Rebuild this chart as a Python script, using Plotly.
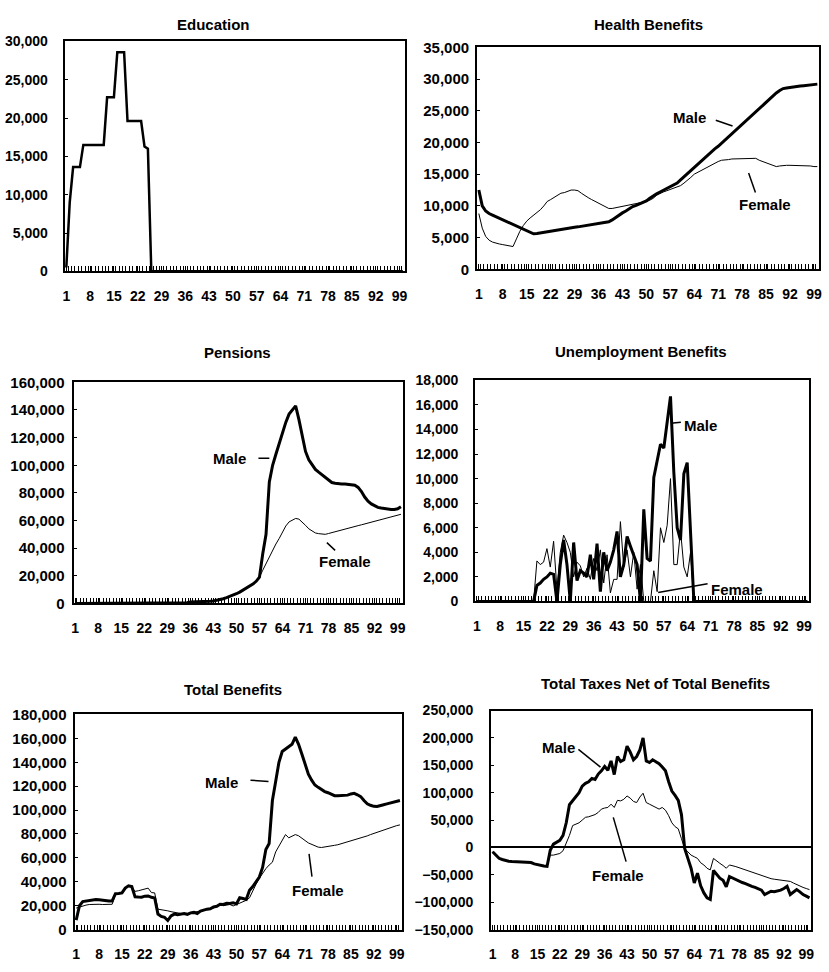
import plotly.graph_objects as go

ages = list(range(1, 101))
x_tick_labels = [1, 8, 15, 22, 29, 36, 43, 50, 57, 64, 71, 78, 85, 92, 99]

education = [
    500, 9000, 13600, 13600, 13600, 16500, 16500, 16500, 16500, 16500,
    16500, 16500, 22700, 22700, 22700, 28600, 28600, 28600, 19600, 19600,
    19600, 19600, 19600, 16300, 16000, 0, 0, 0, 0, 0,
    0, 0, 0, 0, 0, 0, 0, 0, 0, 0,
    0, 0, 0, 0, 0, 0, 0, 0, 0, 0,
    0, 0, 0, 0, 0, 0, 0, 0, 0, 0,
    0, 0, 0, 0, 0, 0, 0, 0, 0, 0,
    0, 0, 0, 0, 0, 0, 0, 0, 0, 0,
    0, 0, 0, 0, 0, 0, 0, 0, 0, 0,
    0, 0, 0, 0, 0, 0, 0, 0, 0, 0]

health_male = [
    12500, 10000, 9200, 8800, 8550, 8300, 8050, 7800, 7550, 7300,
    7050, 6800, 6550, 6300, 6050, 5800, 5600, 5650, 5750, 5850,
    5900, 6000, 6100, 6200, 6300, 6350, 6450, 6550, 6650, 6700,
    6800, 6900, 7000, 7050, 7150, 7250, 7350, 7400, 7500, 7800,
    8200, 8600, 8900, 9200, 9600, 9900, 10100, 10300, 10500, 10800,
    11200, 11600, 11900, 12200, 12500, 12800, 13000, 13300, 13600, 14100,
    14600, 15100, 15600, 16000, 16500, 17000, 17500, 18000, 18500, 19000,
    19400, 19900, 20400, 20900, 21400, 21900, 22400, 22900, 23400, 23900,
    24300, 24800, 25300, 25800, 26300, 26800, 27300, 27800, 28200, 28500,
    28600, 28700, 28750, 28800, 28900, 28950, 29000, 29100, 29150, 29200]
health_female = [
    8800, 6500, 5200, 4600, 4300, 4100, 4000, 3900, 3800, 3700,
    3600, 4800, 6000, 6900, 7600, 8100, 8500, 9000, 9400, 10000,
    10700, 11000, 11300, 11700, 12000, 12100, 12300, 12500, 12500, 12400,
    12000, 11600, 11300, 11000, 10700, 10400, 10100, 9800, 9600, 9600,
    9700, 9800, 9900, 10000, 10100, 10200, 10300, 10400, 10500, 10700,
    10900, 11200, 11700, 12000, 12200, 12400, 12600, 12800, 13000, 13200,
    13600, 14000, 14500, 15000, 15300, 15600, 15900, 16200, 16400, 16700,
    17000, 17200, 17200, 17300, 17400, 17400, 17500, 17500, 17500, 17500,
    17500, 17500, 17200, 17000, 16800, 16600, 16400, 16200, 16300, 16400,
    16400, 16400, 16400, 16400, 16400, 16300, 16300, 16300, 16200, 16200]

pension_male = [
    0, 0, 0, 0, 0, 0, 0, 0, 0, 0,
    0, 0, 0, 0, 0, 0, 0, 0, 0, 0,
    0, 0, 0, 0, 0, 500, 500, 500, 500, 500,
    500, 500, 500, 500, 500, 1000, 1000, 1000, 1000, 1000,
    1200, 1500, 1800, 2200, 2800, 3400, 4200, 5000, 6000, 7000,
    8200, 9500, 11000, 12500, 14000, 16000, 19000, 36000, 50000, 88000,
    100000, 108000, 116000, 124000, 131000, 137000, 140000, 143000, 133000, 120000,
    110000, 104000, 100000, 97000, 95000, 93000, 91000, 89000, 87500, 87000,
    86500, 86500, 86500, 86000, 86000, 85500, 84000, 81000, 77000, 74000,
    72000, 70500, 69500, 69000, 68500, 68000, 68000, 68000, 68500, 70000]
pension_female = [
    0, 0, 0, 0, 0, 0, 0, 0, 0, 0,
    0, 0, 0, 0, 0, 0, 0, 0, 0, 0,
    0, 0, 0, 0, 0, 500, 500, 500, 500, 500,
    500, 500, 500, 500, 500, 1000, 1000, 1000, 1000, 1000,
    1200, 1500, 1800, 2200, 2800, 3400, 4200, 5000, 6000, 7000,
    8200, 9500, 11000, 12500, 14000, 16000, 19000, 24000, 29000, 34000,
    38000, 43000, 47000, 52000, 56000, 59000, 60500, 61500, 61000, 59000,
    56500, 54000, 52500, 51000, 50500, 50000, 50000, 50600, 51300, 51900,
    52500, 53100, 53800, 54400, 55000, 55700, 56300, 56900, 57500, 58200,
    58800, 59400, 60100, 60700, 61300, 61900, 62600, 63200, 63800, 64500]

unemp_male = [
    0, 0, 0, 0, 0, 0, 0, 0, 0, 0,
    0, 0, 0, 0, 0, 0, 0, 0, 1300, 1500,
    1800, 2000, 2300, 2200, 0, 3000, 5000, 3000, 0, 4800,
    1700, 2500, 2300, 2000, 3800, 1800, 4700, 800, 4000, 2500,
    3200, 4200, 5700, 2000, 3000, 5300, 4500, 3800, 3000, 0,
    7500, 3500, 3300, 10100, 11500, 12800, 12500, 14500, 16700, 10500,
    6000, 5000, 10400, 11300, 6000, 0, 0, 0, 0, 0,
    0, 0, 0, 0, 0, 0, 0, 0, 0, 0,
    0, 0, 0, 0, 0, 0, 0, 0, 0, 0,
    0, 0, 0, 0, 0, 0, 0, 0, 0, 0]
unemp_female = [
    0, 0, 0, 0, 0, 0, 0, 0, 0, 0,
    0, 0, 0, 0, 0, 0, 0, 0, 3300, 3000,
    3200, 4300, 2800, 4900, 1000, 4000, 5400, 4800, 4000, 2000,
    3200, 2900, 2000, 2700, 1800, 3500, 2500, 4200, 1500, 3800,
    700, 1800, 1800, 6500, 2800, 4200, 2000, 4000, 1000, 3000,
    0, 0, 0, 2500, 800, 6000, 4800, 6200, 10000, 3000,
    3000, 5800, 2800, 2000, 4000, 0, 0, 0, 0, 0,
    0, 0, 0, 0, 0, 0, 0, 0, 0, 0,
    0, 0, 0, 0, 0, 0, 0, 0, 0, 0,
    0, 0, 0, 0, 0, 0, 0, 0, 0, 0]

total_male = [
    8000, 20000, 23500, 24000, 24500, 25000, 25200, 25000, 24500, 24200,
    24000, 24000, 30000, 30200, 30700, 34700, 36600, 36000, 27400, 27200,
    27100, 28000, 28200, 27000, 26500, 13000, 11000, 10300, 7600, 11500,
    13000, 12500, 13000, 13500, 12800, 14000, 14400, 13500, 15500, 16500,
    17100, 17500, 19000, 19500, 21200, 21000, 22000, 21800, 22500, 21500,
    26600, 26000, 25200, 33000, 36000, 40000, 44000, 52000, 67000, 72000,
    108000, 124000, 140000, 149000, 151000, 153000, 155000, 161000, 155000, 147000,
    138000, 130000, 125000, 121000, 119000, 117000, 115500, 114500, 113000, 112000,
    112000, 112000, 112000, 112500, 113500, 114000, 112800, 111300, 108000, 105300,
    104000, 103100, 103000, 103500, 104500, 105200, 106000, 106800, 107400, 108000]
total_female = [
    18000, 19000, 19800, 20500, 21000, 21200, 21200, 21200, 21000, 21000,
    21000, 21200, 29500, 30000, 30700, 34500, 36000, 35500, 32000, 32500,
    33400, 34000, 34700, 31000, 30700, 17100, 16800, 16500, 15700, 15000,
    14400, 14000, 13500, 13000, 13500, 14000, 14400, 14500, 15000, 16000,
    16800, 17500, 18000, 19500, 20500, 20000, 20500, 21000, 19800, 21000,
    22500, 23900, 24500, 26600, 33000, 38000, 42900, 47000, 51000, 54000,
    56400, 65000, 70000, 75400, 79500, 76800, 78000, 79500, 78500, 76800,
    74500, 72500, 71400, 70000, 69000, 68700, 69000, 69500, 70000, 70500,
    71000, 71800, 72700, 73300, 73900, 74600, 75400, 76300, 77300, 78400,
    79500, 80500, 81500, 82600, 83600, 84600, 85500, 86200, 87000, 87600]

net_male = [
    -7800, -14000, -19800, -22000, -24000, -25000, -25500, -26000, -26000, -26000,
    -26500, -27000, -27500, -30000, -31700, -32000, -34000, -34700, -5000, 6000,
    9000, 13000, 22000, 45000, 78000, 85000, 92000, 100000, 112000, 117000,
    120000, 126000, 124000, 134000, 140000, 148000, 141000, 158000, 133000, 166000,
    157000, 160000, 185000, 174000, 160000, 166000, 178000, 200000, 158000, 155000,
    160000, 156000, 153000, 147000, 140000, 120000, 103000, 95000, 86000, 60000,
    -2000, -20000, -38000, -65000, -47000, -70000, -83000, -92000, -95000, -42000,
    -50000, -56000, -60000, -72000, -53000, -56000, -59000, -61000, -64000, -66000,
    -69000, -71000, -73000, -76000, -78000, -86000, -83000, -80000, -81000, -80000,
    -78000, -75000, -71000, -86000, -82000, -77000, -81000, -86000, -89000, -92000]
net_female = [
    -7800, -14000, -19800, -22000, -24000, -25000, -25500, -26000, -26000, -26000,
    -26500, -27000, -27500, -30000, -31700, -32000, -34000, -34700, -14000, -14000,
    -13000, -11000, -6000, 8000, 22000, 40000, 42000, 45000, 50000, 55000,
    56000, 58000, 60000, 64000, 70000, 72000, 73000, 79000, 73000, 86000,
    85000, 88000, 94000, 90000, 84000, 82000, 92000, 99000, 82000, 79000,
    76000, 74000, 70000, 73000, 68000, 58000, 45000, 38000, 34000, 16000,
    -2000, -8000, -14000, -17000, -20000, -28000, -32000, -38000, -41000, -20000,
    -25000, -29000, -33000, -38000, -32000, -33000, -35000, -37000, -39000, -42000,
    -44000, -46000, -48000, -50000, -52000, -54000, -56000, -57000, -58000, -59000,
    -59000, -60000, -61000, -62000, -65000, -68000, -71000, -73000, -75000, -77000]

titles = ["Education", "Health Benefits", "Pensions", "Unemployment Benefits",
          "Total Benefits", "Total Taxes Net of Total Benefits"]

W, H = 829, 972
FONT = "Liberation Sans, Arial, sans-serif"

# panel boxes in pixels: left, right, top, bottom
boxes = [(63, 405, 33, 267), (478, 822, 39, 265), (72, 403, 380, 605),
         (476, 812, 378, 603), (73, 402, 718, 937), (492, 814, 714, 937)]
yranges = [(0, 30000, 5000), (0, 35000, 5000), (0, 160000, 20000),
           (0, 18000, 2000), (0, 180000, 20000), (-150000, 250000, 50000)]
ystand = [12, 3, 4, 12, 3, 13]
ysize = [14, 15, 15, 14, 15, 14]
title_pos = [(213, 16), (650, 16), (237, 350), (643, 349), (232, 693), (657, 687)]

series = [
    [(education, 2.5)],
    [(health_female, 1.0), (health_male, 3.0)],
    [(pension_female, 1.0), (pension_male, 3.0)],
    [(unemp_female, 1.0), (unemp_male, 3.0)],
    [(total_female, 1.0), (total_male, 3.0)],
    [(net_female, 1.0), (net_male, 3.0)],
]

fig = go.Figure()
layout = dict(width=W, height=H, margin=dict(l=0, r=0, t=0, b=0),
              paper_bgcolor="white", plot_bgcolor="white", showlegend=False,
              font=dict(family=FONT, size=14, color="black", weight="bold"))
annotations = []
shapes = []

for i in range(6):
    n = i + 1
    sfx = "" if n == 1 else str(n)
    l, r, t, b = boxes[i]
    for vals, w in series[i]:
        fig.add_trace(go.Scatter(x=ages, y=vals, mode="lines",
                                 line=dict(color="black", width=w),
                                 xaxis="x" + sfx, yaxis="y" + sfx,
                                 hoverinfo="skip"))
    layout["xaxis" + sfx] = dict(
        domain=[l / W, r / W], anchor="y" + sfx, range=[0.5, 100.5],
        tickmode="array", tickvals=x_tick_labels,
        ticktext=[str(v) for v in x_tick_labels],
        ticks="inside", ticklen=5, tickwidth=1.2, tickcolor="black",
        minor=dict(tickmode="linear", tick0=0.5, dtick=1, ticks="inside",
                   ticklen=5, tickwidth=1.2, tickcolor="black"),
        showline=True, mirror=True, linecolor="black", linewidth=2,
        showgrid=False, zeroline=False, ticklabelstandoff=11,
        tickfont=dict(family=FONT, size=14, color="black", weight="bold"),
    )
    y0, y1, dy = yranges[i]
    layout["yaxis" + sfx] = dict(
        domain=[1 - b / H, 1 - t / H], anchor="x" + sfx, range=[y0, y1],
        tick0=y0, dtick=dy, tickformat=",d",
        ticks="inside", ticklen=3, tickwidth=1, tickcolor="black",
        showline=True, mirror=True, linecolor="black", linewidth=2,
        showgrid=False, zeroline=(y0 < 0), zerolinecolor="black",
        zerolinewidth=1.5, ticklabelstandoff=ystand[i],
        tickfont=dict(family=FONT, size=ysize[i], color="black", weight="bold"),
    )
    tx, ty = title_pos[i]
    annotations.append(dict(x=tx / W, y=1 - ty / H, xref="paper", yref="paper",
                            text=titles[i], showarrow=False,
                            xanchor="center", yanchor="middle",
                            font=dict(family=FONT, size=15, color="black",
                                      weight="bold")))

# series labels with leader lines (data coordinates)
labels = [
    (2, "Male", 62.7, 24000, (70.3, 23500, 75.2, 22600)),
    (2, "Female", 84.8, 10200, (79.9, 15200, 81.9, 12100)),
    (3, "Male", 47.9, 105000, (56.7, 105000, 60.0, 105000)),
    (3, "Female", 83.0, 30000, (77.5, 44000, 80.0, 38400)),
    (4, "Male", 68.0, 14300, (59.1, 14500, 62.1, 14600)),
    (4, "Female", 78.8, 960, (55.3, 720, 70.1, 1440)),
    (5, "Male", 45.5, 123300, (54.3, 125000, 59.8, 124000)),
    (5, "Female", 75.0, 32900, (72.2, 63300, 73.1, 44400)),
    (6, "Male", 21.6, 182600, (27.8, 179000, 34.7, 146600)),
    (6, "Female", 40.3, -51100, (38.7, 54900, 42.7, -25900)),
]
for n, txt, lx, ly, (ax0, ay0, ax1, ay1) in labels:
    sfx = str(n)
    annotations.append(dict(x=lx, y=ly, xref="x" + sfx, yref="y" + sfx,
                            text=txt, showarrow=False, xanchor="center",
                            yanchor="middle",
                            font=dict(family=FONT, size=15, color="black",
                                      weight="bold")))
    shapes.append(dict(type="line", xref="x" + sfx, yref="y" + sfx,
                       x0=ax0, y0=ay0, x1=ax1, y1=ay1,
                       line=dict(color="black", width=1.5)))

layout["annotations"] = annotations
layout["shapes"] = shapes
fig.update_layout(**layout)
fig.write_html("out.html", config={"displayModeBar": False},
               post_script="document.body.style.margin='0';"
                           "document.body.style.overflow='hidden';")
